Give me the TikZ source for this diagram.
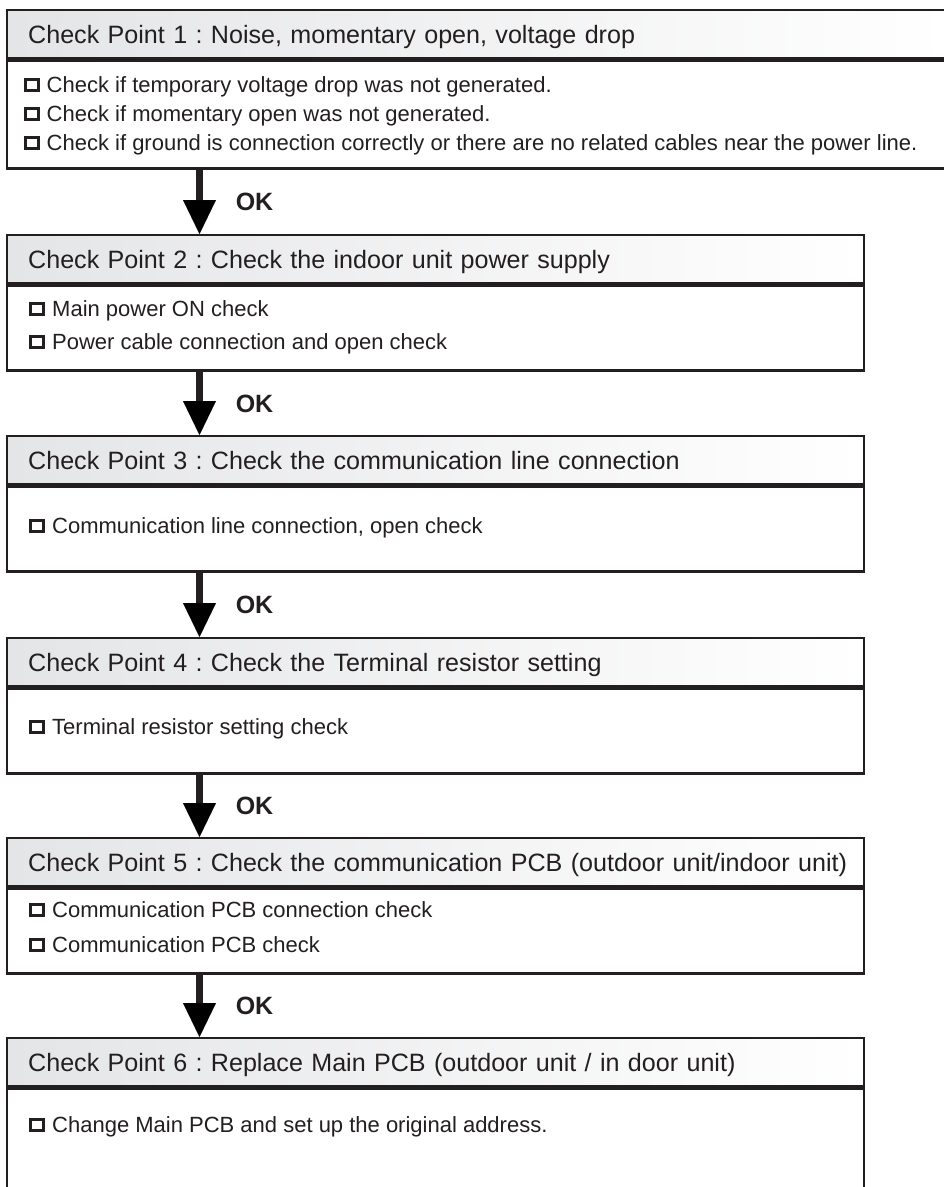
\documentclass[tikz,border=0pt]{standalone}
\usepackage{fontspec}
\setmainfont{Liberation Sans}
\usetikzlibrary{positioning,arrows.meta}
\definecolor{inkgray}{HTML}{231F20}
\definecolor{hdgray}{HTML}{E4E5E7}
\frenchspacing
\newcommand{\ckbox}{\tikz[baseline=0pt]\draw[draw=inkgray,line width=3pt] (1.5pt,1.5pt) rectangle (14.5pt,12.5pt);\hspace{7pt}}

\begin{document}
\begin{tikzpicture}[x=1pt,y=-1pt,
  cphead/.style={draw=inkgray,line width=2.4pt,left color=hdgray,right color=white,anchor=north west,minimum height=48pt,inner xsep=21pt,align=left,text height=18pt,text depth=0pt,text=inkgray,font=\fontsize{25.1}{30}\selectfont},
  cpbody/.style={draw=inkgray,line width=2.4pt,fill=white,anchor=north west},
  item/.style={anchor=base west,inner sep=0pt,text=inkgray,font=\fontsize{22}{26}\selectfont},
  okarrow/.style={draw=inkgray,line width=7.5pt,-{Triangle[length=34pt,width=33pt,line width=0.01pt]}},
  oklabel/.style={anchor=west,inner sep=0pt,xshift=32.5pt,text=inkgray,font=\bfseries\fontsize{25}{30}\selectfont}]
\useasboundingbox (0,0) rectangle (944,1187);
\coordinate (ax) at (199.5,0);

% check point 1
\node[cphead,text width=900pt] (h1) at (6,9) {\mbox{Check Point 1 : Noise, momentary open, voltage drop}};
\node[cpbody,minimum width=942pt,minimum height=108pt] (b1) at (h1.south west) {};
\node[item] (i1a) at (23.5,92) {\ckbox Check if temporary voltage drop was not generated.};
\node[item] (i1b) at (23.5,121) {\ckbox Check if momentary open was not generated.};
\node[item] (i1c) at (23.5,150) {\ckbox Check if ground is connection correctly or there are no related cables near the power line.};

% check point 2
\node[cphead,text width=815pt] (h2) at (6,234) {\mbox{Check Point 2 : Check the indoor unit power supply}};
\node[cpbody,minimum width=857pt,minimum height=85pt] (b2) at (h2.south west) {};
\node[item] (i2a) at (29,316) {\ckbox Main power ON check};
\node[item] (i2b) at (29,349) {\ckbox Power cable connection and open check};

% check point 3
\node[cphead,text width=815pt] (h3) at (6,435) {\mbox{Check Point 3 : Check the communication line connection}};
\node[cpbody,minimum width=857pt,minimum height=85pt] (b3) at (h3.south west) {};
\node[item] (i3a) at (29,533) {\ckbox Communication line connection, open check};

% check point 4
\node[cphead,text width=815pt] (h4) at (6,637) {\mbox{Check Point 4 : Check the Terminal resistor setting}};
\node[cpbody,minimum width=857pt,minimum height=85pt] (b4) at (h4.south west) {};
\node[item] (i4a) at (29,734) {\ckbox Terminal resistor setting check};

% check point 5
\node[cphead,text width=815pt] (h5) at (6,837) {\mbox{Check Point 5 : Check the communication PCB (outdoor unit/indoor unit)}};
\node[cpbody,minimum width=857pt,minimum height=85pt] (b5) at (h5.south west) {};
\node[item] (i5a) at (29,917) {\ckbox Communication PCB connection check};
\node[item] (i5b) at (29,952) {\ckbox Communication PCB check};

% check point 6
\node[cphead,text width=815pt] (h6) at (6,1037) {\mbox{Check Point 6 : Replace Main PCB (outdoor unit / in door unit)}};
\node[cpbody,minimum width=857pt,minimum height=107pt] (b6) at (h6.south west) {};
\node[item] (i6a) at (29,1132) {\ckbox Change Main PCB and set up the original address.};

% OK arrows
\draw[okarrow] (b1.south -| ax) -- (h2.north -| ax) node[oklabel,midway] (ok1) {OK};
\draw[okarrow] (b2.south -| ax) -- (h3.north -| ax) node[oklabel,midway] (ok2) {OK};
\draw[okarrow] (b3.south -| ax) -- (h4.north -| ax) node[oklabel,midway] (ok3) {OK};
\draw[okarrow] (b4.south -| ax) -- (h5.north -| ax) node[oklabel,midway] (ok4) {OK};
\draw[okarrow] (b5.south -| ax) -- (h6.north -| ax) node[oklabel,midway] (ok5) {OK};
\end{tikzpicture}
\end{document}
